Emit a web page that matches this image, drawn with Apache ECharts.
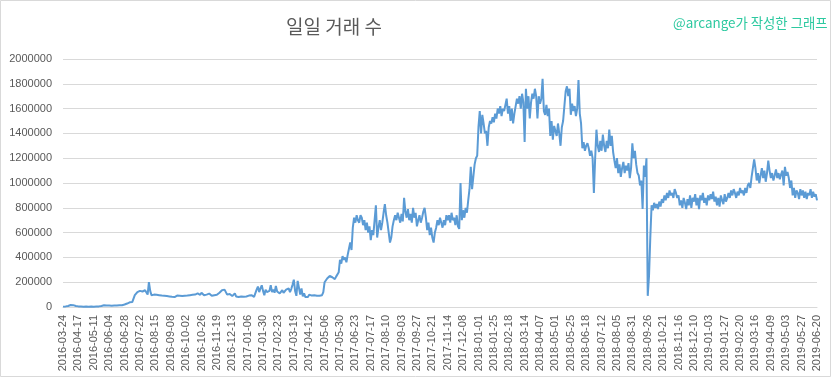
<!DOCTYPE html>
<html><head><meta charset="utf-8">
<script src="https://cdn.jsdelivr.net/npm/echarts/dist/echarts.min.js"></script>
<style>html,body{margin:0;padding:0;background:#fff}#c{width:833px;height:379px}</style>
</head><body><div id="c"></div>
<script>
// ---- data ----
const startDate = '2016-03-24';
const endDate = '2019-06-20';
const missingDates = ['2018-08-17','2018-08-18','2018-09-10','2018-09-11','2018-10-08','2018-11-01','2018-11-02'];
const sampleStep = 2; // one reading every 2nd day on the category axis
const yTicks = [0,200000,400000,600000,800000,1000000,1200000,1400000,1600000,1800000,2000000];
const titleText = '일일 거래 수';
const creditText = '@arcange가 작성한 그래프';
const txCounts = [
3000,4000,5000,6000,8000,12000,16000,18000,15000,12000,
8000,6000,5000,4000,4000,3000,3000,3000,4000,3000,
3000,3000,4000,4000,3000,4000,4000,5000,5000,6000,
8000,10000,14000,18000,12000,10000,12000,9000,11000,14000,
12000,16000,13000,11000,15000,18000,14000,16000,20000,24000,
28000,32000,38000,45000,40000,55000,95000,100000,120000,105000,
130000,115000,125000,110000,135000,120000,100000,200000,130000,95000,
110000,100000,108000,98000,105000,95000,100000,92000,98000,90000,
95000,88000,92000,85000,90000,82000,88000,80000,86000,92000,
85000,90000,82000,88000,95000,90000,98000,92000,100000,95000,
105000,98000,108000,100000,96000,110000,102000,98000,115000,105000,
95000,88000,100000,92000,108000,96000,90000,104000,95000,88000,
98000,105000,115000,125000,135000,148000,140000,120000,100000,95000,
105000,92000,88000,100000,110000,85000,90000,80000,95000,85000,
88000,82000,90000,85000,80000,92000,86000,95000,88000,82000,
90000,140000,165000,120000,150000,175000,130000,95000,140000,120000,
110000,130000,175000,120000,140000,115000,170000,125000,135000,110000,
120000,135000,115000,125000,140000,130000,150000,120000,145000,180000,
220000,130000,90000,210000,200000,100000,150000,85000,110000,80000,
95000,80000,100000,85000,92000,78000,95000,88000,90000,95000,
90000,100000,95000,120000,200000,215000,230000,220000,250000,235000,
240000,255000,225000,245000,230000,280000,380000,350000,410000,380000,
400000,360000,420000,470000,520000,460000,640000,720000,680000,740000,
700000,680000,740000,720000,660000,700000,620000,680000,600000,650000,
540000,620000,580000,700000,820000,560000,640000,700000,620000,680000,
760000,830000,740000,680000,600000,520000,560000,650000,700000,740000,
700000,760000,720000,680000,750000,690000,880000,770000,720000,790000,
700000,750000,680000,800000,720000,760000,650000,700000,740000,680000,
720000,770000,800000,720000,620000,680000,580000,640000,560000,520000,
600000,640000,700000,660000,720000,680000,640000,700000,660000,740000,
700000,740000,680000,760000,700000,720000,660000,740000,650000,630000,
1000000,700000,780000,720000,800000,760000,860000,950000,1130000,950000,
940000,1150000,1200000,1220000,1450000,1580000,1400000,1550000,1480000,1400000,
1420000,1300000,1450000,1500000,1480000,1530000,1490000,1560000,1520000,1600000,
1560000,1620000,1540000,1600000,1580000,1630000,1680000,1560000,1620000,1500000,
1600000,1480000,1560000,1620000,1680000,1640000,1700000,1600000,1720000,1650000,
1330000,1760000,1600000,1700000,1520000,1650000,1720000,1680000,1760000,1700000,
1520000,1700000,1640000,1680000,1840000,1580000,1550000,1630000,1540000,1600000,
1380000,1500000,1350000,1460000,1420000,1380000,1480000,1400000,1300000,1450000,
1500000,1620000,1740000,1780000,1700000,1760000,1550000,1640000,1580000,1620000,
1540000,1600000,1830000,1560000,1480000,1280000,1330000,1260000,1300000,1320000,
1280000,1220000,1260000,1200000,920000,1200000,1430000,1300000,1250000,1340000,
1260000,1390000,1300000,1250000,1340000,1280000,1430000,1300000,1380000,1250000,
1180000,1120000,1200000,1080000,1150000,1050000,1120000,1170000,1080000,1140000,
1100000,1160000,1040000,1120000,1320000,1200000,1260000,1150000,1080000,1060000,
980000,1020000,790000,1140000,1050000,1200000,90000,250000,560000,820000,
780000,840000,800000,830000,790000,850000,810000,870000,840000,900000,
860000,920000,880000,940000,900000,920000,880000,950000,920000,880000,
900000,820000,860000,800000,880000,840000,790000,870000,820000,900000,
800000,880000,850000,910000,820000,880000,790000,900000,860000,920000,
840000,880000,820000,900000,860000,910000,870000,930000,850000,890000,
820000,880000,810000,900000,860000,830000,910000,850000,880000,920000,
880000,940000,900000,950000,920000,880000,930000,900000,960000,920000,
940000,900000,960000,920000,980000,1000000,960000,1050000,1060000,1190000,
1120000,1020000,1080000,1000000,1060000,1120000,1040000,1100000,1010000,1080000,
1180000,1100000,1040000,1080000,1020000,1060000,1110000,1040000,1080000,1030000,
1070000,1100000,980000,1130000,1060000,1090000,1040000,960000,1020000,900000,
960000,880000,940000,920000,870000,950000,900000,940000,880000,930000,
870000,920000,900000,950000,880000,930000,890000,910000,860000
];

// ---- build daily category list (dates with missing days removed) ----
function fmt(d){
  const m = String(d.getUTCMonth()+1).padStart(2,'0');
  const dd = String(d.getUTCDate()).padStart(2,'0');
  return d.getUTCFullYear()+'-'+m+'-'+dd;
}
const days = [];
{
  const p = startDate.split('-').map(Number);
  const d = new Date(Date.UTC(p[0], p[1]-1, p[2]));
  while (fmt(d) <= endDate) {
    const s = fmt(d);
    if (!missingDates.includes(s)) days.push(s);
    d.setUTCDate(d.getUTCDate()+1);
  }
}
const categories = days.filter((_, i) => i % sampleStep === 0);

const chart = echarts.init(document.getElementById('c'), null, {renderer:'canvas'});
chart.setOption({
  animation: false,
  backgroundColor: '#ffffff',
  title: [
    {text: titleText, left: 281, top: 12,
     textStyle: {fontFamily: 'Noto Sans CJK KR', fontSize: 19, fontWeight: 'normal', color: '#595959'}},
    {text: creditText, left: 668, top: 11,
     textStyle: {fontFamily: 'Noto Sans CJK KR', fontSize: 13.4, fontWeight: 'normal', color: '#2DC9A0'}}
  ],
  grid: {left: 63, right: 16, top: 59, bottom: 72, containLabel: false},
  xAxis: {
    type: 'category', data: categories, boundaryGap: false,
    axisLine: {lineStyle: {color: '#D9D9D9'}},
    axisTick: {show: false},
    axisLabel: {interval: 11, rotate: 90, fontFamily: 'Liberation Sans', fontSize: 11, color: '#595959', margin: 8}
  },
  yAxis: {
    type: 'value', min: yTicks[0], max: yTicks[yTicks.length-1], interval: yTicks[1]-yTicks[0],
    splitLine: {lineStyle: {color: '#D9D9D9'}},
    axisLine: {show: false}, axisTick: {show: false},
    axisLabel: {fontFamily: 'Liberation Sans', fontSize: 11, color: '#595959', margin: 11,
                formatter: v => String(v)}
  },
  series: [{
    type: 'line', data: txCounts, symbol: 'none', smooth: false,
    lineStyle: {color: '#5B9BD5', width: 2}, itemStyle: {color: '#5B9BD5'}
  }],
  graphic: [{
    type: 'rect', silent: true, z: 100,
    shape: {x: 0.5, y: 0.5, width: 830, height: 376},
    style: {fill: 'none', stroke: '#D9D9D9', lineWidth: 1}
  }]
});
</script></body></html>
